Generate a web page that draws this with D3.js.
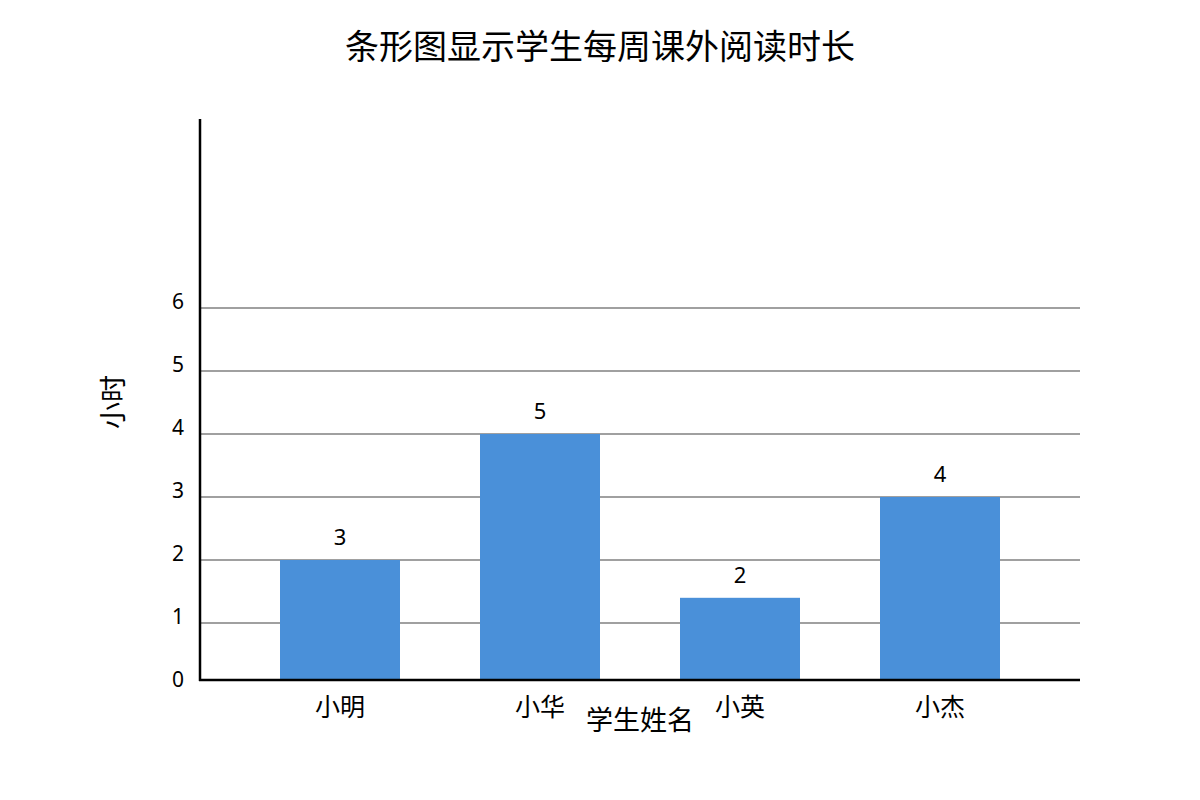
<!DOCTYPE html>
<html>
<head>
<meta charset="utf-8">
<script src="https://cdn.jsdelivr.net/npm/d3@7"></script>
<style>
  body { margin: 0; background: #fff; }
  text { font-family: "Noto Sans", "Noto Sans CJK SC", sans-serif; fill: #000; }
</style>
</head>
<body>
<div id="chart"></div>
<script>
/* DATA */
const students = ["小明", "小华", "小英", "小杰"];
const barHeights = [2, 4, 1.4, 3];     // drawn bar heights
const valueLabels = ["3", "5", "2", "4"]; // printed labels above bars
const yTicks = [0, 1, 2, 3, 4, 5, 6];

const width = 1200, height = 800;

const svg = d3.select("#chart").append("svg")
  .attr("width", width)
  .attr("height", height);

// + SCALES
const xScale = d3.scaleBand()
  .domain(students)
  .range([240, 1040])
  .paddingInner(0.4)
  .paddingOuter(0.2);

const yScale = d3.scaleLinear()
  .domain([0, 9])
  .range([686, 119]);

const baseY = 680;

// gridlines
svg.append("g")
  .selectAll("line")
  .data(yTicks.filter(d => d > 0))
  .join("line")
  .attr("x1", 200)
  .attr("x2", 1080)
  .attr("y1", d => yScale(d))
  .attr("y2", d => yScale(d))
  .attr("stroke", "#808080")
  .attr("stroke-width", 1.5);

// y tick labels
svg.append("g")
  .selectAll("text")
  .data(yTicks)
  .join("text")
  .attr("x", 172)
  .attr("y", d => d === 0 ? baseY - 1 : yScale(d) - 7)
  .attr("dominant-baseline", "central")
  .attr("font-size", 21)
  .text(d => d);

// bars
svg.append("g")
  .selectAll("rect")
  .data(students)
  .join("rect")
  .attr("x", d => xScale(d))
  .attr("width", xScale.bandwidth())
  .attr("y", (d, i) => yScale(barHeights[i]))
  .attr("height", (d, i) => baseY - yScale(barHeights[i]))
  .attr("fill", "#4a90d9");

// value labels
svg.append("g")
  .selectAll("text")
  .data(students)
  .join("text")
  .attr("x", d => xScale(d) + xScale.bandwidth() / 2)
  .attr("y", (d, i) => yScale(barHeights[i]) - 24)
  .attr("text-anchor", "middle")
  .attr("dominant-baseline", "central")
  .attr("font-size", 22)
  .text((d, i) => valueLabels[i]);

// axes lines
svg.append("line")
  .attr("x1", 200).attr("x2", 200)
  .attr("y1", 119).attr("y2", baseY + 1)
  .attr("stroke", "#000").attr("stroke-width", 2.5);
svg.append("line")
  .attr("x1", 199).attr("x2", 1080)
  .attr("y1", baseY).attr("y2", baseY)
  .attr("stroke", "#000").attr("stroke-width", 2.5);

// category labels
svg.append("g")
  .selectAll("text")
  .data(students)
  .join("text")
  .attr("x", d => xScale(d) + xScale.bandwidth() / 2)
  .attr("y", 706)
  .attr("text-anchor", "middle")
  .attr("dominant-baseline", "central")
  .attr("font-size", 25)
  .text(d => d);

// axis titles
svg.append("text")
  .attr("x", 640)
  .attr("y", 719)
  .attr("text-anchor", "middle")
  .attr("dominant-baseline", "central")
  .attr("font-size", 27)
  .text("学生姓名");

svg.append("text")
  .attr("transform", "translate(112,402) rotate(-90)")
  .attr("text-anchor", "middle")
  .attr("dominant-baseline", "central")
  .attr("font-size", 27)
  .text("小时");

// title
svg.append("text")
  .attr("x", 600)
  .attr("y", 46)
  .attr("text-anchor", "middle")
  .attr("dominant-baseline", "central")
  .attr("font-size", 34)
  .text("条形图显示学生每周课外阅读时长");
</script>
</body>
</html>
